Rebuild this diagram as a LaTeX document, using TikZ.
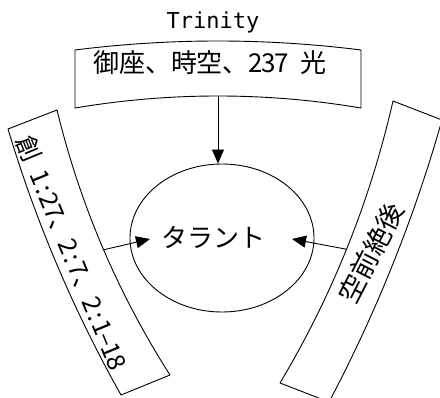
\documentclass[tikz,border=0pt]{standalone}
\usepackage{fontspec}
\setmainfont{Noto Sans CJK JP}
\newfontfamily\trimono{DejaVu Sans Mono}
\usetikzlibrary{arrows.meta,calc,shapes.geometric}
\newcommand{\hw}[1]{\makebox[0.5em]{#1}}
\tikzset{
  bandline/.style={draw=black, line width=0.9pt, line join=round},
  conn/.style={line width=0.9pt, -{Triangle[length=14pt,width=12pt]}},
  big/.style={font=\fontsize{26pt}{30pt}\selectfont, inner sep=0pt},
}
\begin{document}
\begin{tikzpicture}[x=1pt,y=-1pt]
\useasboundingbox (0,0) rectangle (440,398);
\clip (0,0) rectangle (440,398);
% top band
\draw[bandline] (75,50) .. controls (170.3,38) and (265.7,38) .. (361,50)
  -- (361,108) .. controls (265.7,92) and (170.3,92) .. (75,108) -- cycle;
\path (361,108) .. controls (265.7,92) and (170.3,92) .. (75,108) coordinate[pos=0.5] (tin);
% left band
\draw[bandline] (8,129) .. controls (35.9,221.9) and (73.5,310.5) .. (121,395)
  -- (170,375) .. controls (117.6,292.9) and (80,204.5) .. (57,110) -- cycle;
\path (57,110) .. controls (80,204.5) and (117.6,292.9) .. (170,375) coordinate[pos=0.51] (lin);
% right band
\draw[bandline] (393,101) .. controls (370.2,200.9) and (332.6,294.9) .. (280,383)
  -- (329,402) .. controls (376.6,311.9) and (414.2,217.9) .. (442,120) -- cycle;
\path (393,101) .. controls (370.2,200.9) and (332.6,294.9) .. (280,383) coordinate[pos=0.51] (rin);
% texts
\node[font=\trimono\fontsize{22pt}{26pt}\selectfont, inner sep=0pt] (trin) at (213,22) {Trinity};
\node[big] (top) at (210,62.5) {御座、時空、\hw{2}\hw{3}\hw{7}\hw{ }光};
\node[font=\fontsize{25pt}{29pt}\selectfont, inner sep=0pt, rotate=-67.6] (left) at (71.5,252.5) {創\hw{ }\hw{1}\hw{:}\hw{2}\hw{7}、\hw{2}\hw{:}\hw{7}、\hw{2}\hw{:}\hw{1}\hw{–}\hw{1}\hw{8}};
\node[font=\fontsize{27pt}{31pt}\selectfont, inner sep=0pt, rotate=62.9] (right) at (371,252.5) {空前絶後};
% center
\node[draw, ellipse, line width=0.9pt, minimum width=184pt, minimum height=148pt, inner sep=0pt] (ell) at (222,238) {};
\node[big] (tar) at (213,237) {タラント};
\coordinate (ltip) at (150,239);
\coordinate (rtip) at (292,239);
\draw[conn] (tin) -- (tin |- ell.north);
\draw[conn] (lin) -- (ltip);
\draw[conn] (rin) -- (rtip);
\end{tikzpicture}
\end{document}
